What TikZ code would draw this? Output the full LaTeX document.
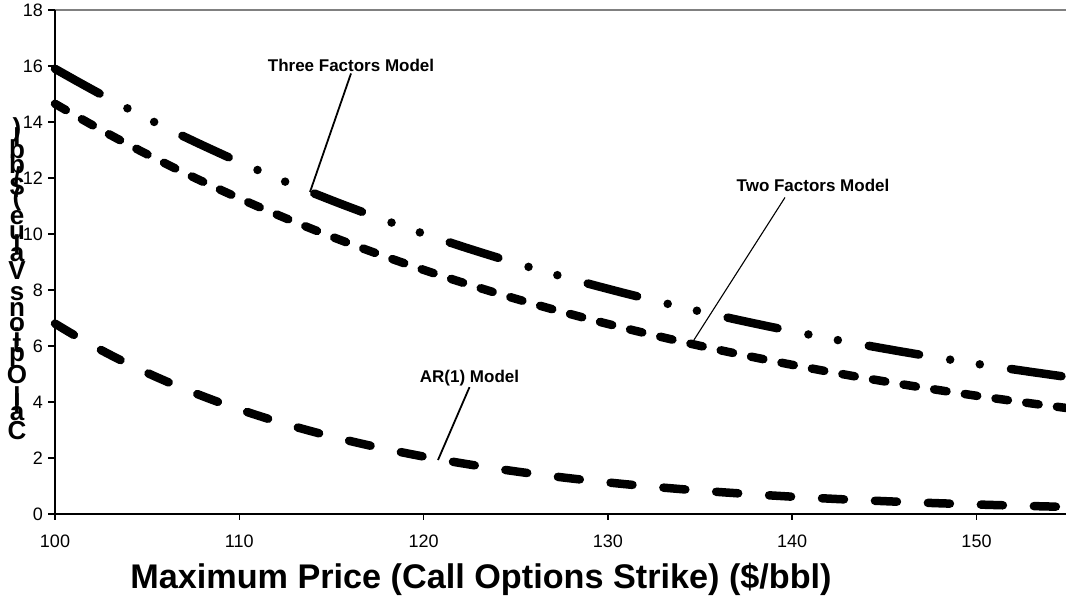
\documentclass[tikz,border=0pt]{standalone}
\usepackage{fontspec}
\setmainfont{Liberation Sans}
\begin{document}
\begin{tikzpicture}[x=1pt,y=-1pt,
  axisline/.style={black, line width=2pt},
  topline/.style={gray, line width=2.5pt},
  tickline/.style={black, line width=1.5pt},
  ticklab/.style={font=\fontsize{18}{18}\selectfont, inner sep=0pt},
  modlab/.style={font=\bfseries\fontsize{17}{17}\selectfont, inner sep=0pt},
  titlelab/.style={font=\bfseries\fontsize{34.2}{34.2}\selectfont, inner sep=0pt},
  ychar/.style={font=\bfseries\fontsize{26}{26}\selectfont, inner sep=0pt, anchor=center},
  leader/.style={black, line width=1.8pt},
  thinleader/.style={black, line width=1.1pt},
  threecurve/.style={black, line width=8.5pt, line cap=round, line join=round, dash pattern=on 51pt off 31.5pt on 0pt off 30pt on 0pt off 31.5pt},
  twocurve/.style={black, line width=8.5pt, line cap=round, line join=round, dash pattern=on 12.5pt off 18.5pt},
  arcurve/.style={black, line width=8.5pt, line cap=round, line join=round, dash pattern=on 22pt off 31pt}
]
\useasboundingbox (0,0) rectangle (1066,598);

% frame
\draw[topline] (55,10) -- (1066,10);
\draw[axisline] (55,10) -- (55,515);
\draw[axisline] (54,514) -- (1066,514);

% y ticks
\foreach \v in {0,2,...,18} {
  \draw[tickline] (48,{514-28*\v}) -- (55,{514-28*\v});
  \node[ticklab, anchor=east] (yl\v) at (43,{514-28*\v}) {\v};
}
% x ticks
\foreach \s in {100,110,...,150} {
  \draw[tickline] ({55+18.43*(\s-100)},514) -- ({55+18.43*(\s-100)},520);
  \node[ticklab] (xl\s) at ({55+18.43*(\s-100)},541) {\s};
}

% curves
\draw[threecurve] plot[domain=55:1066, samples=150] (\x, {514-28*(1.5+14.4*exp(-0.02635*(\x-55)/18.46))});
\draw[twocurve] plot[domain=55:1066, samples=150] (\x, {514-28*(0.8+13.85*exp(-0.028*(\x-55)/18.46))});
\draw[arcurve] plot[domain=55:1066, samples=150] (\x, {514-28*(6.8*exp(-0.06*(\x-55)/18.46))});

% labels and leaders
\node[modlab] (lab3) at (351,65) {Three Factors Model};
\node[modlab] (lab2) at (813,185) {Two Factors Model};
\node[modlab] (labar) at (469.5,378) {AR(1) Model};
\coordinate (c3) at (310,192);
\coordinate (c2) at (692,343);
\coordinate (car) at (438,460);
\draw[leader] ([yshift=-2pt]lab3.south) -- (c3);
\draw[thinleader] ([xshift=-28pt,yshift=-6pt]lab2.south) -- (c2);
\draw[leader] ([yshift=-1pt]labar.south) -- (car);

% axis title
\node[titlelab] (xtitle) at (481,579) {Maximum Price (Call Options Strike) (\$/bbl)};

% y axis title, printed with upright stacked glyphs
\node[ychar] (y01) at (17,430.6) {C};
\node[ychar] (y02) at (17,414.0) {a};
\node[ychar] (y03) at (17,403.2) {l};
\node[ychar] (y04) at (17,395.9) {l};
\node[ychar] (y05) at (17,375.0) {O};
\node[ychar] (y06) at (17,356.9) {p};
\node[ychar] (y07) at (17,344.6) {t};
\node[ychar] (y08) at (17,336.7) {i};
\node[ychar] (y09) at (17,325.1) {o};
\node[ychar] (y10) at (17,309.2) {n};
\node[ychar] (y11) at (17,294.1) {s};
\node[ychar] (y12) at (17,270.9) {V};
\node[ychar] (y13) at (17,255.0) {a};
\node[ychar] (y14) at (17,244.2) {l};
\node[ychar] (y15) at (17,232.6) {u};
\node[ychar] (y16) at (17,217.5) {e};
\node[ychar] (y17) at (17,198.7) {(};
\node[ychar] (y18) at (17,187.1) {\$};
\node[ychar] (y19) at (17,176.3) {/};
\node[ychar] (y20) at (17,164.7) {b};
\node[ychar] (y21) at (17,148.8) {b};
\node[ychar] (y22) at (17,137.2) {l};
\node[ychar] (y23) at (17,129.3) {)};
\end{tikzpicture}
\end{document}
